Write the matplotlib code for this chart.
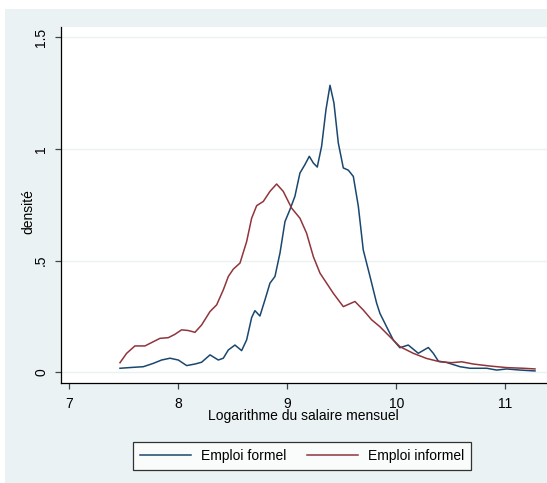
import matplotlib
matplotlib.use("Agg")
import matplotlib.pyplot as plt
from matplotlib.patches import Rectangle

plt.rcParams["font.family"] = ["Liberation Sans", "DejaVu Sans"]

# densité estimée (log du salaire mensuel)
formel_x = [7.465, 7.58, 7.679, 7.771, 7.847, 7.924, 8.0, 8.077, 8.153, 8.214, 8.291,
            8.367, 8.413, 8.459, 8.52, 8.581, 8.627, 8.673, 8.703, 8.749, 8.795, 8.841,
            8.887, 8.933, 8.979, 9.024, 9.07, 9.116, 9.162, 9.202, 9.239, 9.275, 9.315,
            9.355, 9.392, 9.428, 9.468, 9.514, 9.56, 9.606, 9.652, 9.697, 9.759, 9.82,
            9.85, 9.911, 9.972, 10.033, 10.11, 10.202, 10.294, 10.34, 10.386, 10.462,
            10.585, 10.677, 10.83, 10.921, 11.013, 11.135, 11.273]
formel_y = [0.018, 0.022, 0.025, 0.04, 0.055, 0.063, 0.055, 0.03, 0.037, 0.045, 0.078,
            0.055, 0.063, 0.1, 0.122, 0.097, 0.145, 0.245, 0.276, 0.252, 0.324, 0.399,
            0.429, 0.534, 0.675, 0.728, 0.788, 0.892, 0.93, 0.967, 0.937, 0.919, 1.012,
            1.176, 1.285, 1.206, 1.027, 0.915, 0.905, 0.877, 0.743, 0.548, 0.429, 0.309,
            0.264, 0.204, 0.145, 0.11, 0.122, 0.085, 0.111, 0.085, 0.05, 0.044,
            0.025, 0.018, 0.018, 0.01, 0.015, 0.01, 0.006]

informel_x = [7.465, 7.526, 7.602, 7.694, 7.771, 7.832, 7.908, 7.969, 8.03, 8.092, 8.153,
              8.214, 8.291, 8.352, 8.413, 8.459, 8.505, 8.566, 8.627, 8.673, 8.719, 8.78,
              8.841, 8.902, 8.963, 9.04, 9.116, 9.177, 9.239, 9.3, 9.361, 9.422, 9.514,
              9.621, 9.697, 9.774, 9.85, 9.942, 10.033, 10.156, 10.278, 10.401, 10.508,
              10.6, 10.707, 10.86, 11.013, 11.166, 11.273]
informel_y = [0.043, 0.085, 0.118, 0.118, 0.137, 0.152, 0.155, 0.17, 0.19, 0.187, 0.179,
              0.212, 0.272, 0.302, 0.369, 0.429, 0.462, 0.489, 0.585, 0.69, 0.746, 0.765,
              0.81, 0.843, 0.81, 0.735, 0.69, 0.623, 0.518, 0.444, 0.399, 0.354, 0.294,
              0.317, 0.279, 0.235, 0.204, 0.159, 0.115, 0.085, 0.062, 0.047, 0.043,
              0.047, 0.037, 0.028, 0.021, 0.018, 0.015]

y_ticks = [0, 0.5, 1, 1.5]
y_labels = ["0", ".5", "1", "1.5"]
x_ticks = [7, 8, 9, 10, 11]

BG = "#eaf2f3"
BLUE = "#1a476f"
RED = "#90353b"

fig = plt.figure(figsize=(5.47, 4.83), dpi=100, facecolor="white")
fig.patches.append(Rectangle((5 / 547, 0), 1, (483 - 9) / 483, transform=fig.transFigure,
                             facecolor=BG, edgecolor="none", zorder=-10))

ax = fig.add_axes([60.7 / 547, 100.3 / 483, 1 - 60.7 / 547, 355.7 / 483])
ax.set_facecolor("white")
ax.plot(formel_x, formel_y, color=BLUE, lw=1.1, solid_joinstyle="round", label="Emploi formel")
ax.plot(informel_x, informel_y, color=RED, lw=1.1, solid_joinstyle="round",
        label="Emploi informel")

ax.set_xlim(6.921, 11.383)
ax.set_ylim(-0.0466, 1.546)
ax.set_yticks(y_ticks)
ax.set_yticklabels(y_labels, rotation=90, va="center")
ax.set_xticks(x_ticks)
ax.grid(axis="y", color=BG, lw=1.0)
ax.set_axisbelow(True)
for s in ["top", "right"]:
    ax.spines[s].set_visible(False)
for s in ["left", "bottom"]:
    ax.spines[s].set_color("black")
    ax.spines[s].set_linewidth(0.9)
ax.tick_params(axis="both", length=4, width=0.9, color="#444444", labelsize=10, pad=5)
ax.tick_params(axis="x", pad=6)

ax.set_xlabel("Logarithme du salaire mensuel", fontsize=10, labelpad=-1)
ax.set_ylabel("densité", fontsize=10)
ax.yaxis.set_label_coords(-0.053, 0.48)

leg = fig.legend(loc="center", bbox_to_anchor=(302 / 547, 27 / 483), ncol=2, fontsize=10,
                 frameon=True, fancybox=False, handlelength=3.7, handletextpad=0.7,
                 columnspacing=1.5, borderpad=0.5)
leg.get_frame().set_edgecolor("black")
leg.get_frame().set_linewidth(0.9)

fig.savefig("out.png", dpi=100, facecolor=fig.get_facecolor())
